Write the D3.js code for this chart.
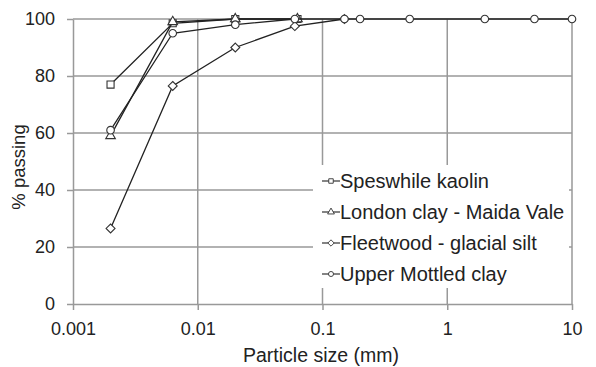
<!DOCTYPE html>
<html>
<head>
<meta charset="utf-8">
<script src="https://cdn.jsdelivr.net/npm/d3@7"></script>
<style>
  body { margin: 0; background: #fff; }
  text { font-family: "Liberation Sans", Arial, sans-serif; fill: #222; }
</style>
</head>
<body>
<svg id="chart"></svg>
<script>
// data
const seriesNames = ["Speswhile kaolin", "London clay - Maida Vale", "Fleetwood - glacial silt", "Upper Mottled clay"];
const seriesSymbols = ["square", "triangle", "diamond", "circle"];
const sizesKaolin = [0.002, 0.0063, 0.02, 0.063];
const passKaolin = [77, 98.5, 100, 100];
const sizesLondon = [0.002, 0.0063, 0.02, 0.063];
const passLondon = [59, 99, 100, 100];
const sizesFleetwood = [0.002, 0.0063, 0.02, 0.06, 0.15];
const passFleetwood = [26.5, 76.5, 90, 97.5, 100];
const sizesMottled = [0.002, 0.0063, 0.02, 0.06, 0.15, 0.2, 0.5, 2, 5, 10];
const passMottled = [61, 95, 98, 100, 100, 100, 100, 100, 100, 100];
const xTicks = [0.001, 0.01, 0.1, 1, 10];
const xTickLabels = ["0.001", "0.01", "0.1", "1", "10"];
const yTicks = [0, 20, 40, 60, 80, 100];

const width = 596, height = 367;
const margin = {top: 19, right: 24, bottom: 63, left: 73};
const w = width - margin.left - margin.right;
const h = height - margin.top - margin.bottom;

const svg = d3.select('#chart')
    .attr('width', width)
    .attr('height', height);
const g = svg.append('g')
    .attr('transform', 'translate(' + margin.left + ',' + margin.top + ')');

const x = d3.scaleLog().domain([0.001, 10]).range([0, w]);
const y = d3.scaleLinear().domain([0, 100]).range([h, 0]);

// grid
g.append('g').selectAll('line')
    .data(xTicks.slice(1))
    .enter().append('line')
    .attr('x1', d => x(d)).attr('x2', d => x(d))
    .attr('y1', 0).attr('y2', h)
    .attr('stroke', '#999').attr('stroke-width', 1.5);
g.append('g').selectAll('line')
    .data(yTicks.slice(1))
    .enter().append('line')
    .attr('x1', 0).attr('x2', w)
    .attr('y1', d => y(d)).attr('y2', d => y(d))
    .attr('stroke', '#999').attr('stroke-width', 1.5);

// axes
const xAxis = g.append('g')
    .attr('transform', 'translate(0,' + h + ')')
    .call(d3.axisBottom(x).tickValues(xTicks).tickFormat((d, i) => xTickLabels[i]).tickSizeInner(6).tickSizeOuter(0).tickPadding(12));
const yAxis = g.append('g')
    .call(d3.axisLeft(y).tickValues(yTicks).tickSizeInner(6).tickSizeOuter(0).tickPadding(12));
[xAxis, yAxis].forEach(a => {
  a.select('.domain').attr('stroke', '#999').attr('stroke-width', 1.5);
  a.selectAll('.tick line').attr('stroke', '#999').attr('stroke-width', 1.5);
  a.selectAll('text').style('font-size', '18px').attr('fill', '#222');
});

// series
const allSeries = [
  {sizes: sizesKaolin, pass: passKaolin},
  {sizes: sizesLondon, pass: passLondon},
  {sizes: sizesFleetwood, pass: passFleetwood},
  {sizes: sizesMottled, pass: passMottled}
];
// square rotated 45 degrees, wider than d3's own diamond
const wideDiamond = {
  draw(context, size) {
    const r = Math.sqrt(size / 2);
    context.moveTo(0, -r);
    context.lineTo(r, 0);
    context.lineTo(0, r);
    context.lineTo(-r, 0);
    context.closePath();
  }
};
const symbolTypes = {
  square: d3.symbolSquare,
  triangle: d3.symbolTriangle,
  diamond: wideDiamond,
  circle: d3.symbolCircle
};
const symbolSizes = {square: 50, triangle: 40, diamond: 40, circle: 45};

const line = d3.line().x(d => x(d[0])).y(d => y(d[1]));

allSeries.forEach(function(s, i) {
  const pts = s.sizes.map((v, j) => [v, s.pass[j]]);
  g.append('path')
      .datum(pts)
      .attr('d', line)
      .attr('fill', 'none')
      .attr('stroke', '#222')
      .attr('stroke-width', 1.3);
  const sym = seriesSymbols[i];
  g.selectAll('.m' + i)
      .data(pts)
      .enter().append('path')
      .attr('class', 'm' + i)
      .attr('transform', d => 'translate(' + x(d[0]) + ',' + y(d[1]) + ')')
      .attr('d', d3.symbol().type(symbolTypes[sym]).size(symbolSizes[sym]))
      .attr('fill', '#fff')
      .attr('stroke', '#333')
      .attr('stroke-width', 1.1);
});

// legend
const legend = svg.append('g').attr('transform', 'translate(313,165)');
legend.append('rect')
    .attr('width', 256).attr('height', 123)
    .attr('fill', '#fff');
seriesNames.forEach(function(name, i) {
  const row = legend.append('g').attr('transform', 'translate(0,' + (16 + i * 31) + ')');
  row.append('line')
      .attr('x1', 9).attr('x2', 27)
      .attr('stroke', '#333').attr('stroke-width', 1.2);
  row.append('path')
      .attr('transform', 'translate(18,0)')
      .attr('d', d3.symbol().type(symbolTypes[seriesSymbols[i]]).size(20))
      .attr('fill', '#fff').attr('stroke', '#333').attr('stroke-width', 0.9);
  row.append('text')
      .attr('x', 27).attr('y', 7)
      .style('font-size', '20px')
      .text(name);
});

// axis titles
svg.append('text')
    .attr('x', 321).attr('y', 362)
    .attr('text-anchor', 'middle')
    .style('font-size', '19.5px')
    .text('Particle size (mm)');
svg.append('text')
    .attr('transform', 'translate(25,167) rotate(-90)')
    .attr('text-anchor', 'middle')
    .style('font-size', '18.5px')
    .text('% passing');
</script>
</body>
</html>
